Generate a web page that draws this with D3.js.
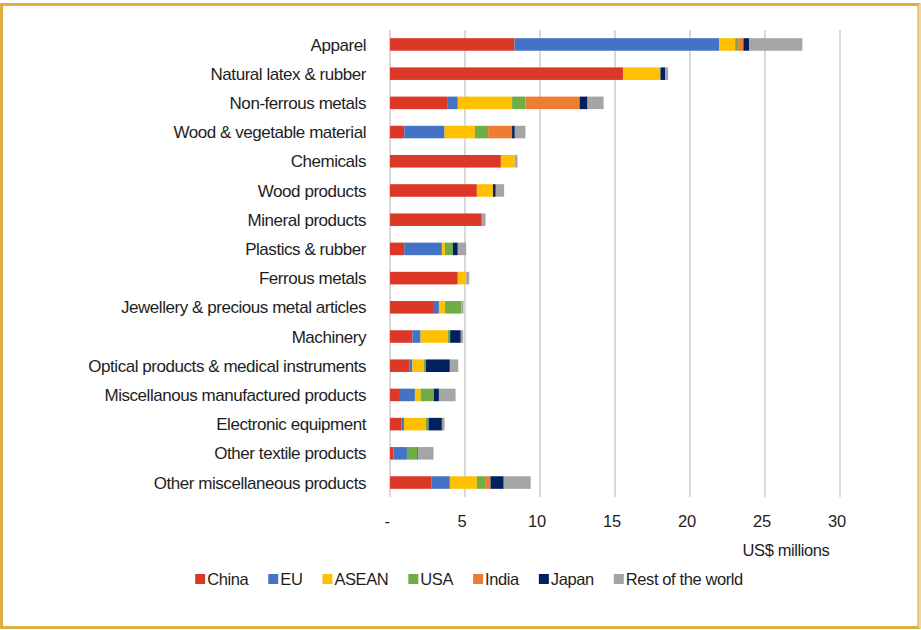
<!DOCTYPE html>
<html>
<head>
<meta charset="utf-8">
<script src="https://cdn.jsdelivr.net/npm/d3@7"></script>
<style>
  body { margin: 0; background: #fff; }
  svg text { font-family: "Liberation Sans Narrow", "Arial Narrow", "Liberation Sans", sans-serif; fill: #1e1e1e; }
</style>
</head>
<body>
<script>
// categories, top to bottom
var categories = [
  "Apparel", "Natural latex & rubber", "Non-ferrous metals", "Wood & vegetable material",
  "Chemicals", "Wood products", "Mineral products", "Plastics & rubber", "Ferrous metals",
  "Jewellery & precious metal articles", "Machinery", "Optical products & medical instruments",
  "Miscellanous manufactured products", "Electronic equipment", "Other textile products",
  "Other miscellaneous products"
];
var seriesNames = ["China", "EU", "ASEAN", "USA", "India", "Japan", "Rest of the world"];
var seriesColors = ["#dc3828", "#4472c4", "#ffc000", "#70ad47", "#ed7d31", "#002060", "#a5a5a5"];

// US$ millions, one value per category
var china = [8.3, 15.53, 3.81, 0.95, 7.39, 5.79, 6.12, 0.95, 4.52, 2.93, 1.49, 1.31, 0.6, 0.75, 0.22, 2.75];
var eu    = [13.65, 0, 0.71, 2.69, 0, 0, 0, 2.51, 0, 0.33, 0.55, 0.18, 1.06, 0.18, 0.91, 1.24];
var asean = [1.06, 2.5, 3.62, 2.02, 0.93, 1.08, 0, 0.2, 0.56, 0.4, 1.82, 0.75, 0.38, 1.47, 0, 1.8];
var usa   = [0.2, 0, 0.89, 0.88, 0, 0, 0, 0.53, 0, 1.11, 0.15, 0.16, 0.89, 0.17, 0.7, 0.55];
var india = [0.35, 0, 3.61, 1.6, 0, 0, 0, 0, 0, 0, 0, 0, 0, 0, 0, 0.36];
var japan = [0.38, 0.31, 0.53, 0.18, 0, 0.18, 0, 0.33, 0, 0, 0.71, 1.59, 0.33, 0.89, 0.05, 0.88];
var rest  = [3.55, 0.2, 1.07, 0.71, 0.18, 0.56, 0.25, 0.56, 0.2, 0.13, 0.16, 0.56, 1.11, 0.18, 1.02, 1.8];
var xTicks = [0, 5, 10, 15, 20, 25, 30];

var seriesValues = [china, eu, asean, usa, india, japan, rest];
var rows = categories.map(function (c, i) {
  var r = { category: c };
  seriesNames.forEach(function (s, k) { r[s] = seriesValues[k][i]; });
  return r;
});

var W = 921, H = 630;
var svg = d3.select("body").append("svg")
  .attr("width", W).attr("height", H);

// golden frame
svg.append("rect")
  .attr("x", 1.5).attr("y", 4.5)
  .attr("width", 917.5).attr("height", 623)
  .attr("fill", "none")
  .attr("stroke", "#dfae44")
  .attr("stroke-width", 3);
svg.append("line")
  .attr("x1", 919.5).attr("x2", 919.5).attr("y1", 4).attr("y2", 628)
  .attr("stroke", "#f3dca0").attr("stroke-width", 1.5);

var x = d3.scaleLinear().domain([0, 30]).range([390, 840]);
var y = d3.scaleBand().domain(categories).range([30, 497]).paddingInner(0.57).paddingOuter(0.28);

// gridlines
svg.append("g").selectAll("line")
  .data(xTicks)
  .join("line")
  .attr("x1", function (d) { return x(d); })
  .attr("x2", function (d) { return x(d); })
  .attr("y1", 30).attr("y2", 497)
  .attr("stroke", "#d9d9d9")
  .attr("stroke-width", 2);

var stack = d3.stack().keys(seriesNames)(rows);

svg.append("g").selectAll("g")
  .data(stack)
  .join("g")
  .attr("fill", function (d, i) { return seriesColors[i]; })
  .selectAll("rect")
  .data(function (d) { return d; })
  .join("rect")
  .attr("x", function (d) { return x(d[0]); })
  .attr("width", function (d) { return Math.max(0, x(d[1]) - x(d[0])); })
  .attr("y", function (d) { return y(d.data.category); })
  .attr("height", y.bandwidth());

// category labels
svg.append("g").selectAll("text")
  .data(categories)
  .join("text")
  .attr("x", 366)
  .attr("y", function (d) { return y(d) + y.bandwidth() / 2; })
  .attr("dy", "0.36em")
  .attr("text-anchor", "end")
  .style("font-size", "17px")
  .style("letter-spacing", "-0.45px")
  .text(function (d) { return d; });

// x tick labels
svg.append("g").selectAll("text")
  .data(xTicks)
  .join("text")
  .attr("x", function (d) { return x(d) - 3; })
  .attr("y", 527)
  .attr("text-anchor", "middle")
  .style("font-size", "16.5px")
  .style("letter-spacing", "-0.3px")
  .text(function (d) { return d === 0 ? "-" : d; });

svg.append("text")
  .attr("x", 786).attr("y", 556)
  .attr("text-anchor", "middle")
  .style("font-size", "16.5px")
  .style("letter-spacing", "-0.4px")
  .text("US$ millions");

// legend
var legend = svg.append("g");
var lx = 0;
seriesNames.forEach(function (s, i) {
  var g = legend.append("g").attr("transform", "translate(" + lx + ",0)");
  g.append("rect").attr("x", 0).attr("y", -5).attr("width", 10).attr("height", 10)
    .attr("fill", seriesColors[i]);
  var t = g.append("text").attr("x", 12).attr("y", 0).attr("dy", "0.36em")
    .style("font-size", "16.5px")
    .style("letter-spacing", "-0.4px")
    .text(s);
  lx += 12 + t.node().getComputedTextLength() + 20;
});
var legendW = lx - 20;
legend.attr("transform", "translate(" + (469 - legendW / 2) + ",579)");
</script>
</body>
</html>
